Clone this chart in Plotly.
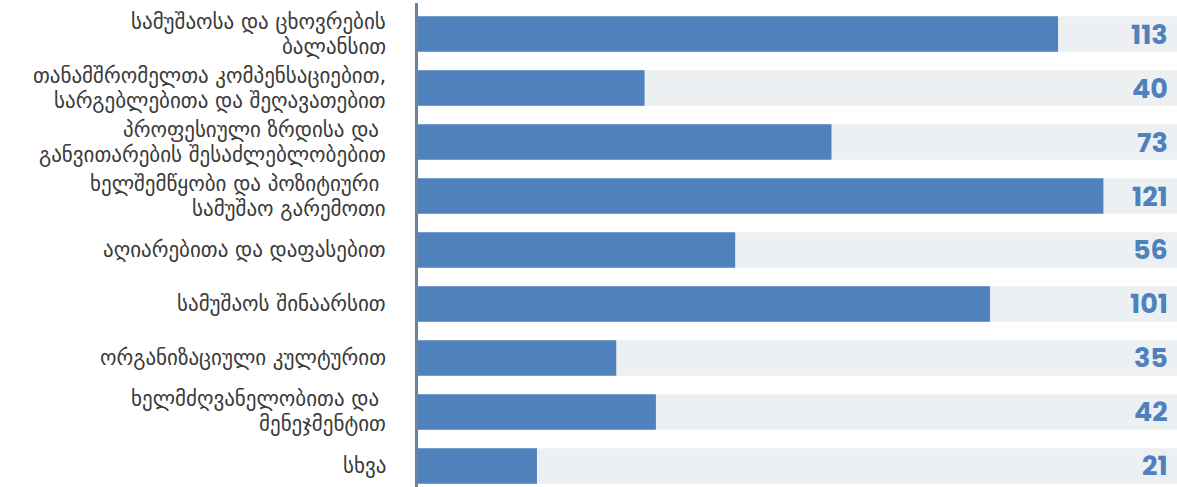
import plotly.graph_objects as go

categories = [
    ["სამუშაოსა და ცხოვრების", "ბალანსით"],
    ["თანამშრომელთა კომპენსაციებით,", "სარგებლებითა და შეღავათებით"],
    ["პროფესიული ზრდისა და\u00a0", "განვითარების შესაძლებლობებით"],
    ["ხელშემწყობი და პოზიტიური\u00a0", "სამუშაო გარემოთი"],
    ["აღიარებითა და დაფასებით"],
    ["სამუშაოს შინაარსით"],
    ["ორგანიზაციული კულტურით"],
    ["ხელმძღვანელობითა და\u00a0", "მენეჯმენტით"],
    ["სხვა"],
]
values = [113, 40, 73, 121, 56, 101, 35, 42, 21]
scale_max = 134

BLUE = "#4F81BD"
TRACK = "#EDF0F2"
LABEL_SIZE = 21
LABEL_LINE_PX = 25

idx = list(range(len(categories)))

fig = go.Figure()
fig.add_trace(go.Bar(
    y=idx, x=[scale_max] * len(idx), orientation="h",
    marker=dict(color=TRACK, line=dict(width=0)), width=0.66,
    hoverinfo="skip", showlegend=False,
))
fig.add_trace(go.Bar(
    y=idx, x=values, orientation="h",
    marker=dict(color=BLUE, line=dict(width=0)), width=0.66,
    showlegend=False,
))

# category labels, one annotation per line for tight line spacing
for i, lines in zip(idx, categories):
    n = len(lines)
    for k, line in enumerate(lines):
        fig.add_annotation(
            x=0, y=i, xref="x", yref="y", text=line,
            xanchor="right", yanchor="middle", xshift=-30,
            yshift=((n - 1) / 2 - k) * LABEL_LINE_PX, showarrow=False,
            font=dict(family="DejaVu Sans", size=LABEL_SIZE, color="#3a3a3a"),
        )

# value labels at the right end of each track
for i, v in zip(idx, values):
    fig.add_annotation(
        x=scale_max, y=i, xref="x", yref="y", text=f"<b>{v}</b>",
        xanchor="right", yanchor="middle", xshift=-7, showarrow=False,
        font=dict(family="Poppins, Roboto, sans-serif", size=27, color=BLUE),
    )

fig.update_layout(
    barmode="overlay",
    width=1177, height=487,
    margin=dict(l=418, r=0, t=3, b=0),
    paper_bgcolor="white", plot_bgcolor="white",
    xaxis=dict(range=[0, scale_max], visible=False, fixedrange=True),
    yaxis=dict(
        range=[8.389, -0.574],
        showgrid=False, zeroline=False, showticklabels=False,
        showline=True, linecolor="#6E8399", linewidth=3, ticks="",
    ),
)

fig.write_html("out.html")
